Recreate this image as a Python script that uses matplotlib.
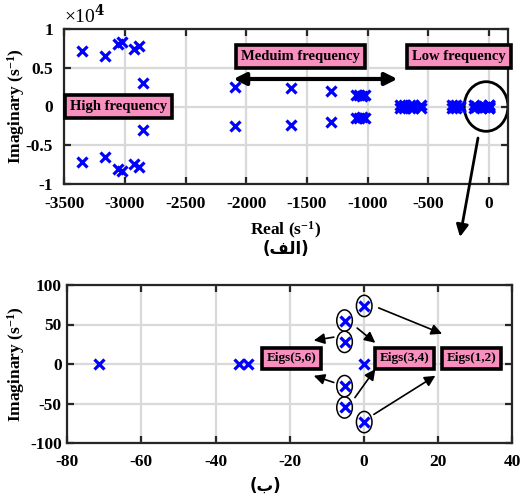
import matplotlib
matplotlib.use('Agg')
import matplotlib.pyplot as plt
from matplotlib.patches import Ellipse
from matplotlib.ticker import FuncFormatter

plt.rcParams['font.family'] = ['Liberation Serif', 'DejaVu Sans']
plt.rcParams['font.weight'] = 'bold'
plt.rcParams['axes.unicode_minus'] = False
plt.rcParams['mathtext.fontset'] = 'custom'
plt.rcParams['mathtext.rm'] = 'Liberation Serif:bold'
plt.rcParams['mathtext.default'] = 'rm'

# ---- data: system eigenvalues (real, imag) ----
# high frequency modes (conjugate pairs)
hi_re = [-3350, -3160, -3055, -3020, -2925, -2885, -2850]
hi_im = [7150, 6550, 8050, 8300, 7450, 7750, 3050]
# medium frequency modes (conjugate pairs)
md_re = [-2095, -1635, -1305, -1100, -1075, -1048, -1020]
md_im = [2550, 2350, 2050, 1450, 1500, 1400, 1450]
# low frequency modes, stacked near the real axis
lo_re = [-730, -705, -650, -630, -560, -310, -290, -270, -240, -125, -105]
lo_im = [200, 150, 200, 150, 150, 150, 100, 150, 100, 150, 100]
# zoom on the dominant modes
dom_re = [-71.5, -33.8, -31.2, -5.2, -5.2, -5.2, -5.2, 0.1, 0.1, 0.1]
dom_im = [0, 0, 0, 55, 28, -28, -55, 73.5, -73.5, 0]
circled = [3, 4, 5, 6, 7, 8]

PINK = '#f78fbf'
BLUE = '#0000ff'
SPINE = '#262626'


def style(ax, xpad, ypad):
    for s in ax.spines.values():
        s.set_linewidth(1.6)
        s.set_color(SPINE)
    ax.tick_params(direction='in', length=5, width=1.6, top=True, right=True,
                   labelsize=12.5, colors=SPINE, labelcolor='black')
    ax.tick_params(axis='x', pad=xpad)
    ax.tick_params(axis='y', pad=ypad)
    ax.grid(True, color='#d9d9d9', lw=1.6)
    ax.set_axisbelow(True)


def box(ax, x, y, s, fs=10.5):
    ax.text(x, y, s, ha='center', va='center', fontsize=fs, fontweight='bold',
            bbox=dict(boxstyle='square,pad=0.35', fc=PINK, ec='black', lw=2.6))


fig = plt.figure(figsize=(5.21, 5.0), dpi=100)

# ---------------- top: full spectrum ----------------
ax1 = fig.add_axes([0.123, 0.632, 0.852, 0.310])
style(ax1, 9, 8)
mk = dict(ls='none', marker='x', color=BLUE, ms=7.5, mew=2.3)
ax1.plot(hi_re, hi_im, **mk)
ax1.plot(hi_re, [-v for v in hi_im], **mk)
ax1.plot(md_re, md_im, **mk)
ax1.plot(md_re, [-v for v in md_im], **mk)
ax1.plot(lo_re, lo_im, **mk)
ax1.plot(lo_re, [-v for v in lo_im], **mk)
ax1.plot(dom_re, [v * 3 for v in dom_im], **mk)
ax1.set_xlim(-3500, 155)
ax1.set_ylim(-10000, 10000)
ax1.set_xticks(range(-3500, 1, 500))
ax1.set_yticks([-10000, -5000, 0, 5000, 10000])
ax1.yaxis.set_major_formatter(FuncFormatter(lambda v, p: '%g' % (v / 1e4)))
ax1.set_ylabel('Imaginary (s$^{-1}$)', fontsize=12.5, fontweight='bold')
ax1.yaxis.set_label_coords(-0.083, 0.5)
ax1.set_xlabel('Real (s$^{-1}$)', fontsize=12.5, fontweight='bold', labelpad=5)
ax1.text(0.0, 1.015, '\u00d710$^{4}$', transform=ax1.transAxes, fontsize=14,
         fontweight='normal', ha='left', va='bottom',
         math_fontfamily='dejavuserif')

box(ax1, -3050, 0, 'High frequency')
box(ax1, -1554, 6450, 'Meduim frequency')
box(ax1, -252, 6450, 'Low frequency')
ax1.annotate('', xy=(-2105, 3550), xytext=(-755, 3550),
             arrowprops=dict(arrowstyle='<|-|>', lw=3, color='black',
                             mutation_scale=18, shrinkA=0, shrinkB=0))
ax1.add_patch(Ellipse((-25, 0), 360, 6400, fill=False, ec='black', lw=2))
ax1.annotate('', xy=(460 / 521, 1 - 237 / 500), xycoords='figure fraction',
             xytext=(478 / 521, 1 - 138 / 500), textcoords='figure fraction',
             arrowprops=dict(arrowstyle='-|>', lw=2, color='black',
                             mutation_scale=18, shrinkA=0, shrinkB=0),
             annotation_clip=False)
fig.text(0.549, 1 - 249 / 500, '(\ufed2\ufedf\ufe8d)', ha='center', va='center',
         fontsize=12, fontweight='bold', family=['DejaVu Sans'])

# ---------------- bottom: dominant modes ----------------
ax2 = fig.add_axes([0.129, 0.114, 0.854, 0.316])
style(ax2, 8, 4)
ax2.plot(dom_re, dom_im, **mk)
for i in circled:
    ax2.add_patch(Ellipse((dom_re[i], dom_im[i]), 4.2, 27, fill=False,
                          ec='black', lw=1.1))
ax2.set_xlim(-80, 40)
ax2.set_ylim(-100, 100)
ax2.set_xticks(range(-80, 41, 20))
ax2.set_yticks(range(-100, 101, 50))
ax2.set_ylabel('Imaginary (s$^{-1}$)', fontsize=12.5, fontweight='bold')
ax2.yaxis.set_label_coords(-0.09, 0.5)

box(ax2, -19.4, 7, 'Eigs(5,6)', 9.5)
box(ax2, 11.0, 7, 'Eigs(3,4)', 9.5)
box(ax2, 29.0, 7, 'Eigs(1,2)', 9.5)
arrows = [((4.0, 71), (21.1, 38.3)), ((-1.8, 45.5), (3.1, 26.8)),
          ((-8.1, 34), (-13.5, 29.8)), ((-8.1, -23.4), (-13.5, -14.9)),
          ((-2.4, -42.5), (3.1, -6.4)), ((2.7, -63.8), (19.3, -14.9))]
for (x0, y0), (x1, y1) in arrows:
    ax2.annotate('', xy=(x1, y1), xytext=(x0, y0),
                 arrowprops=dict(arrowstyle='-|>', lw=1.2, color='black',
                                 mutation_scale=16, shrinkA=0, shrinkB=0))
fig.text(265 / 521, 1 - 486 / 500, '(\u0628)', ha='center', va='center',
         fontsize=12, fontweight='bold', family=['DejaVu Sans'])

fig.savefig('out.png', dpi=100)
